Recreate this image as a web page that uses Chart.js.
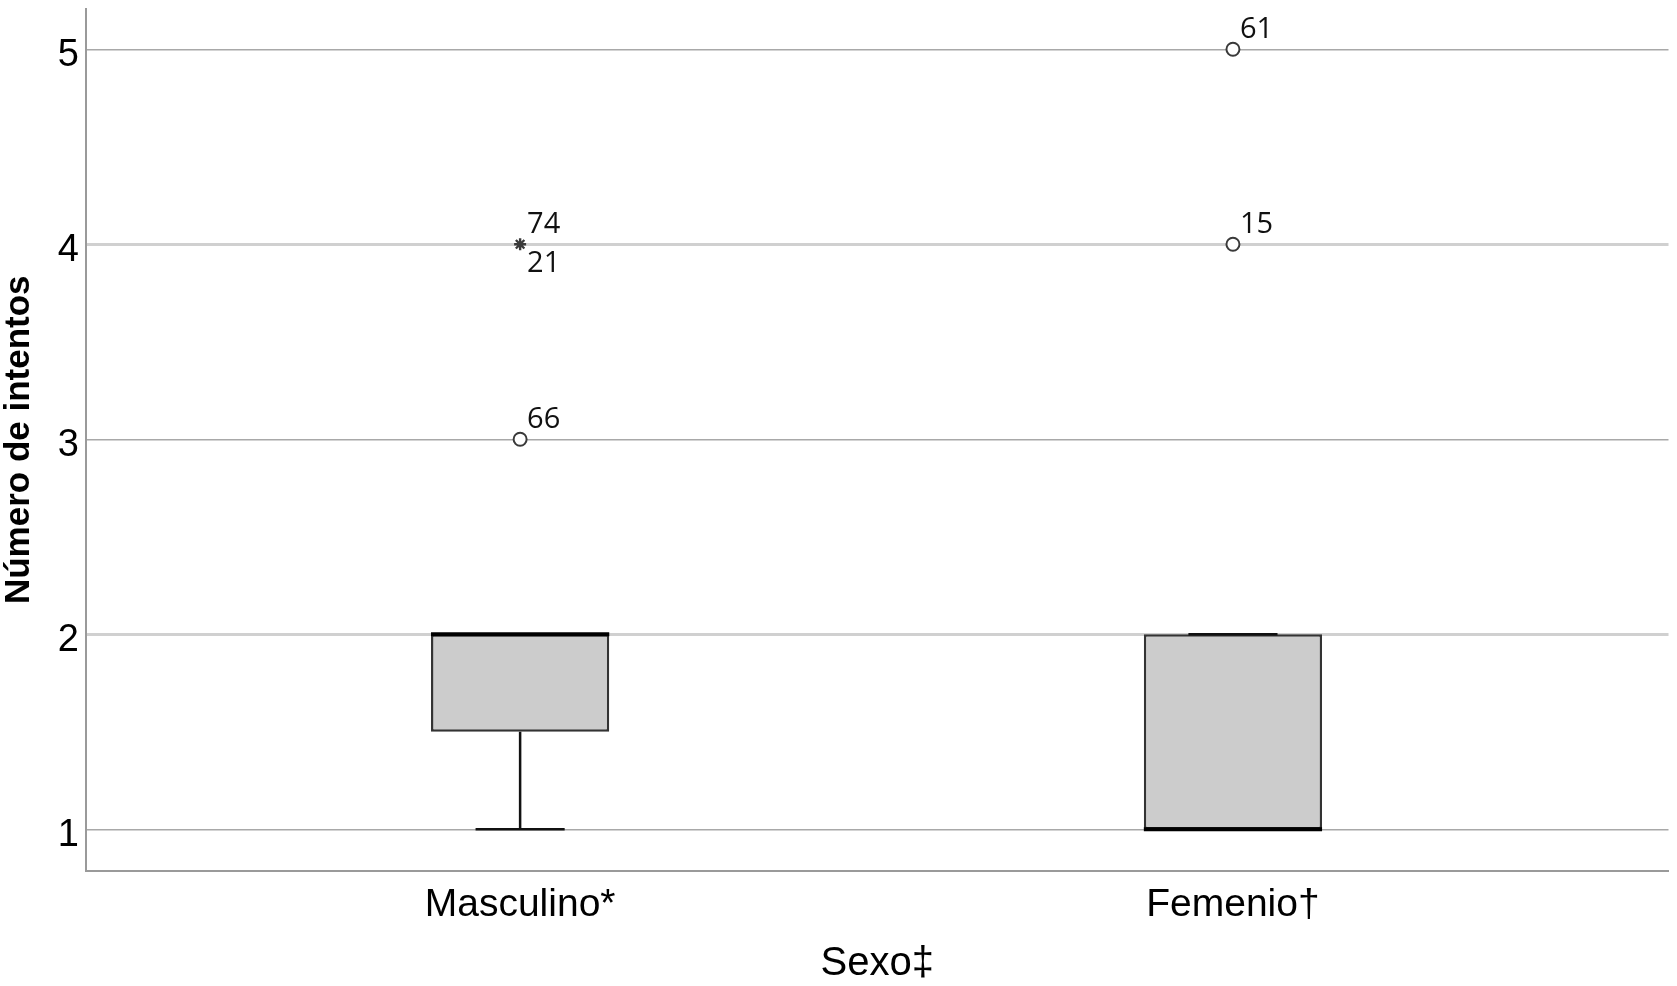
<!DOCTYPE html>
<html lang="es">
<head>
  <meta charset="UTF-8" />
  <title>Número de intentos por sexo</title>
  <script src="https://cdn.jsdelivr.net/npm/chart.js@4.4.0/dist/chart.umd.min.js"></script>
  <style>
    body { margin: 0; background: #fff; }
    #wrap { width: 1677px; height: 986px; }
  </style>
</head>
<body>
  <div id="wrap"><canvas id="boxChart"></canvas></div>

  <script>
    // categories and box statistics
    const categories = ['Masculino*', 'Femenio\u2020'];
    const q1 = [1.5, 1];
    const median = [2, 1];
    const q3 = [2, 2];
    const whiskerLow = [1, 1];
    const whiskerHigh = [2, 2];

    // outliers: group index (1-based), value, kind, case numbers
    const outlierGroup = [1, 1, 2, 2];
    const outlierValue = [3, 4, 4, 5];
    const outlierKind = ['mild', 'extreme', 'mild', 'mild'];
    const outlierCases = [['66'], ['74', '21'], ['15'], ['61']];

    const yTicks = [1, 2, 3, 4, 5];

    // whiskers, caps, medians and case labels
    const boxExtras = {
      id: 'boxExtras',
      afterDatasetsDraw(chart) {
        const ctx = chart.ctx;
        const y = chart.scales.y;
        const bars = chart.getDatasetMeta(0).data;
        ctx.save();
        ctx.strokeStyle = '#111';
        bars.forEach((bar, i) => {
          const cx = bar.x;
          const half = bar.width / 2;
          ctx.lineWidth = 2.5;
          ctx.beginPath();
          ctx.moveTo(cx, y.getPixelForValue(q1[i]));
          ctx.lineTo(cx, y.getPixelForValue(whiskerLow[i]));
          ctx.moveTo(cx, y.getPixelForValue(q3[i]));
          ctx.lineTo(cx, y.getPixelForValue(whiskerHigh[i]));
          [whiskerLow[i], whiskerHigh[i]].forEach(v => {
            const py = y.getPixelForValue(v);
            ctx.moveTo(cx - half / 2, py);
            ctx.lineTo(cx + half / 2, py);
          });
          ctx.stroke();
          ctx.lineWidth = 4;
          ctx.strokeStyle = '#000';
          ctx.beginPath();
          const my = y.getPixelForValue(median[i]);
          ctx.moveTo(cx - half, my);
          ctx.lineTo(cx + half, my);
          ctx.stroke();
          ctx.strokeStyle = '#111';
        });

        ctx.fillStyle = '#111';
        ctx.font = '29px "Open Sans"';
        ctx.textAlign = 'left';
        ctx.textBaseline = 'middle';
        chart.getDatasetMeta(1).data.forEach((pt, i) => {
          const cases = outlierCases[i];
          ctx.fillText(cases[0], pt.x + 7, pt.y - 20);
          if (cases[1]) ctx.fillText(cases[1], pt.x + 7, pt.y + 19);
        });
        ctx.restore();
      }
    };

    new Chart(document.getElementById('boxChart'), {
      type: 'bar',
      data: {
        datasets: [{
          type: 'bar',
          data: categories.map((c, i) => ({ x: i + 1, y: [q1[i], q3[i]] })),
          backgroundColor: '#cccccc',
          borderColor: '#333',
          borderWidth: 2.5,
          borderSkipped: false,
          categoryPercentage: 1,
          barPercentage: 0.25
        }, {
          type: 'scatter',
          data: outlierValue.map((v, i) => ({ x: outlierGroup[i], y: v })),
          pointStyle: outlierKind.map(k => k === 'extreme' ? 'star' : 'circle'),
          pointRadius: outlierKind.map(k => k === 'extreme' ? 6 : 6.5),
          backgroundColor: '#fff',
          borderColor: '#3a3a3a',
          borderWidth: outlierKind.map(k => k === 'extreme' ? 2.4 : 2)
        }]
      },
      options: {
        responsive: true,
        maintainAspectRatio: false,
        animation: false,
        layout: { padding: { top: 5, right: 6, left: 0, bottom: 0 } },
        plugins: {
          legend: { display: false },
          tooltip: { enabled: false }
        },
        scales: {
          x: {
            type: 'linear',
            offset: false,
            min: 0.391,
            max: 2.611,
            afterBuildTicks: s => { s.ticks = categories.map((c, i) => ({ value: i + 1 })); },
            afterFit: s => { s.height = 115; s.paddingLeft = 0; s.paddingRight = 0; },
            grid: { display: false, drawTicks: false },
            border: { display: true, color: '#9a9a9a', width: 2 },
            ticks: {
              padding: 11,
              color: '#000',
              font: { family: '"Liberation Sans", Arial, sans-serif', size: 39 },
              callback: v => categories[v - 1]
            },
            title: {
              display: true,
              text: 'Sexo\u2021',
              color: '#000',
              padding: { top: 0, bottom: 2.5 },
              font: { family: '"Liberation Sans", Arial, sans-serif', size: 40, lineHeight: 1 }
            }
          },
          y: {
            min: 0.786,
            max: 5.209,
            afterBuildTicks: s => { s.ticks = yTicks.map(v => ({ value: v })); },
            afterFit: s => { s.width = 86; s.paddingTop = 0; s.paddingBottom = 0; },
            grid: {
              drawTicks: false,
              color: c => c.tick && c.tick.value % 2 === 0 ? '#d0d0d0' : '#a8a8a8',
              lineWidth: c => c.tick && c.tick.value % 2 === 0 ? 3 : 1.5
            },
            border: { display: true, color: '#9a9a9a', width: 2 },
            ticks: {
              padding: 7,
              labelOffset: 6,
              color: '#000',
              font: { family: '"Liberation Sans", Arial, sans-serif', size: 38 }
            },
            title: {
              display: true,
              text: 'Número de intentos',
              color: '#000',
              padding: { top: 1.5, bottom: 0 },
              font: { family: '"Liberation Sans", Arial, sans-serif', size: 35, weight: 'bold', lineHeight: 1 }
            }
          }
        }
      },
      plugins: [boxExtras]
    });
  </script>
</body>
</html>
